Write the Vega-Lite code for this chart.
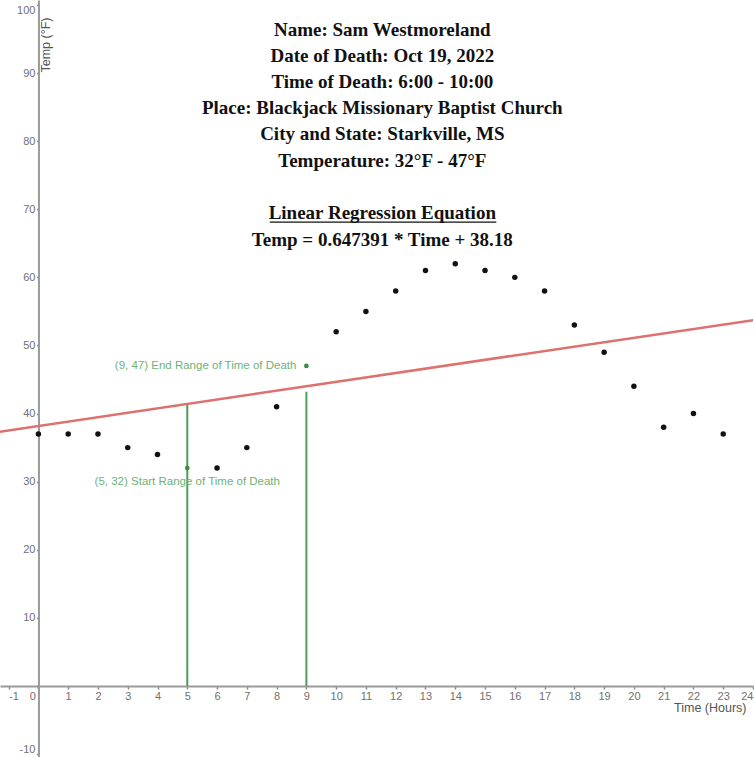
{
  "$schema": "https://vega.github.io/schema/vega-lite/v6.json",
  "width": 754,
  "height": 757,
  "autosize": {"type": "fit", "contains": "padding"},
  "padding": 0,
  "background": "white",
  "config": {"view": {"stroke": null}},
  "datasets": {
    "temps": [
      {"time": 0, "temp": 37}, {"time": 1, "temp": 37}, {"time": 2, "temp": 37},
      {"time": 3, "temp": 35}, {"time": 4, "temp": 34}, {"time": 5, "temp": 32},
      {"time": 6, "temp": 32}, {"time": 7, "temp": 35}, {"time": 8, "temp": 41},
      {"time": 9, "temp": 47}, {"time": 10, "temp": 52}, {"time": 11, "temp": 55},
      {"time": 12, "temp": 58}, {"time": 13, "temp": 61}, {"time": 14, "temp": 62},
      {"time": 15, "temp": 61}, {"time": 16, "temp": 60}, {"time": 17, "temp": 58},
      {"time": 18, "temp": 53}, {"time": 19, "temp": 49}, {"time": 20, "temp": 44},
      {"time": 21, "temp": 38}, {"time": 22, "temp": 40}, {"time": 23, "temp": 37}
    ],
    "ranges": [
      {"time": 5, "temp": 32, "low": 0, "top": 41.3, "kind": "start", "label": "(5, 32) Start Range of Time of Death"},
      {"time": 9, "temp": 47, "low": 0, "top": 43.2, "kind": "end", "label": "(9, 47) End Range of Time of Death"}
    ],
    "notes": [
      {"time": 11.55, "temp": 95.45, "text": "Name: Sam Westmoreland"},
      {"time": 11.55, "temp": 91.56, "text": "Date of Death: Oct 19, 2022"},
      {"time": 11.55, "temp": 87.74, "text": "Time of Death: 6:00 - 10:00"},
      {"time": 11.55, "temp": 83.92, "text": "Place: Blackjack Missionary Baptist Church"},
      {"time": 11.55, "temp": 80.10, "text": "City and State: Starkville, MS"},
      {"time": 11.55, "temp": 76.28, "text": "Temperature: 32°F - 47°F"},
      {"time": 11.55, "temp": 68.50, "text": "Linear Regression Equation"},
      {"time": 11.55, "temp": 64.68, "text": "Temp = 0.647391 * Time + 38.18"}
    ],
    "underline": [
      {"time": 7.77, "time2": 15.38, "temp": 68.1}
    ]
  },
  "encoding": {
    "x": {
      "field": "time",
      "type": "quantitative",
      "scale": {"domain": [-1.29, 24], "nice": false, "zero": false},
      "axis": {
        "title": "Time (Hours)",
        "values": [-1, 0, 1, 2, 3, 4, 5, 6, 7, 8, 9, 10, 11, 12, 13, 14, 15, 16, 17, 18, 19, 20, 21, 22, 23, 24],
        "offset": -71,
        "grid": false,
        "domainColor": "#9a9a9a",
        "domainWidth": 2,
        "tickColor": "#888888",
        "tickSize": 3,
        "tickWidth": 1.5,
        "labelPadding": 1,
        "labelFont": "Liberation Sans",
        "labelFontSize": 11,
        "labelColor": "#707070",
        "labelOverlap": false,
        "labelFlush": false,
        "labelExpr": "toString(datum.value)",
        "labelAlign": {
          "condition": [
            {"test": "datum.value == 0", "value": "right"},
            {"test": "datum.value == -1", "value": "left"},
            {"test": "datum.value == 24", "value": "right"}
          ],
          "value": "center"
        },
        "labelOffset": {"condition": {"test": "datum.value == 0", "value": -3}, "value": 0},
        "titleFont": "Liberation Sans",
        "titleFontSize": 12.5,
        "titleFontWeight": "normal",
        "titleColor": "#555555",
        "titleX": 746,
        "titleY": 21,
        "titleAlign": "right",
        "titleBaseline": "middle"
      }
    },
    "y": {
      "field": "temp",
      "type": "quantitative",
      "scale": {"domain": [-10.43, 100.73], "nice": false, "zero": false},
      "axis": {
        "title": "Temp (°F)",
        "values": [-10, 0, 10, 20, 30, 40, 50, 60, 70, 80, 90, 100],
        "offset": -38.46,
        "grid": false,
        "domainColor": "#9a9a9a",
        "domainWidth": 2,
        "tickColor": "#888888",
        "tickSize": 2,
        "tickWidth": 1.5,
        "labelPadding": 1.5,
        "labelFont": "Liberation Sans",
        "labelFontSize": 11,
        "labelColor": "#707070",
        "labelOverlap": false,
        "labelFlush": false,
        "labelExpr": "datum.value == 0 ? '' : toString(datum.value)",
        "labelBaseline": {
          "condition": [
            {"test": "datum.value == -10", "value": "bottom"},
            {"test": "datum.value == 100", "value": "top"}
          ],
          "value": "middle"
        },
        "titleFont": "Liberation Sans",
        "titleFontSize": 12.5,
        "titleFontWeight": "normal",
        "titleColor": "#555555",
        "titleAngle": 270,
        "titleX": 1.5,
        "titleY": 72,
        "titleAlign": "left",
        "titleBaseline": "top"
      }
    }
  },
  "layer": [
    {
      "data": {"name": "temps"},
      "transform": [
        {"regression": "temp", "on": "time", "method": "linear", "extent": [-1.6, 24.4]}
      ],
      "mark": {"type": "line", "color": "#dd716e", "strokeWidth": 2.5, "clip": true}
    },
    {
      "data": {"name": "ranges"},
      "mark": {"type": "rule", "color": "#4c9e57", "strokeWidth": 2},
      "encoding": {
        "y": {"field": "low", "type": "quantitative"},
        "y2": {"field": "top"}
      }
    },
    {
      "data": {"name": "temps"},
      "transform": [{"filter": "datum.time != 5 && datum.time != 9"}],
      "mark": {"type": "point", "filled": true, "color": "#111111", "size": 30, "opacity": 1}
    },
    {
      "data": {"name": "ranges"},
      "mark": {"type": "point", "filled": true, "color": "#388c46", "size": 22, "opacity": 1}
    },
    {
      "data": {"name": "ranges"},
      "transform": [{"filter": "datum.kind == 'end'"}],
      "mark": {"type": "text", "align": "right", "baseline": "middle", "dx": -10, "font": "Liberation Sans", "fontSize": 11.5, "color": "#6db375"},
      "encoding": {"text": {"field": "label"}}
    },
    {
      "data": {"name": "ranges"},
      "transform": [{"filter": "datum.kind == 'start'"}],
      "mark": {"type": "text", "align": "center", "baseline": "middle", "dx": 0, "dy": 14, "font": "Liberation Sans", "fontSize": 11.5, "color": "#6db375"},
      "encoding": {"text": {"field": "label"}}
    },
    {
      "data": {"name": "notes"},
      "mark": {"type": "text", "align": "center", "baseline": "alphabetic", "font": "Liberation Serif", "fontWeight": "bold", "fontSize": 19, "color": "#111111"},
      "encoding": {"text": {"field": "text"}}
    },
    {
      "data": {"name": "underline"},
      "mark": {"type": "rule", "color": "#111111", "strokeWidth": 1.3},
      "encoding": {"x2": {"field": "time2"}}
    }
  ]
}
